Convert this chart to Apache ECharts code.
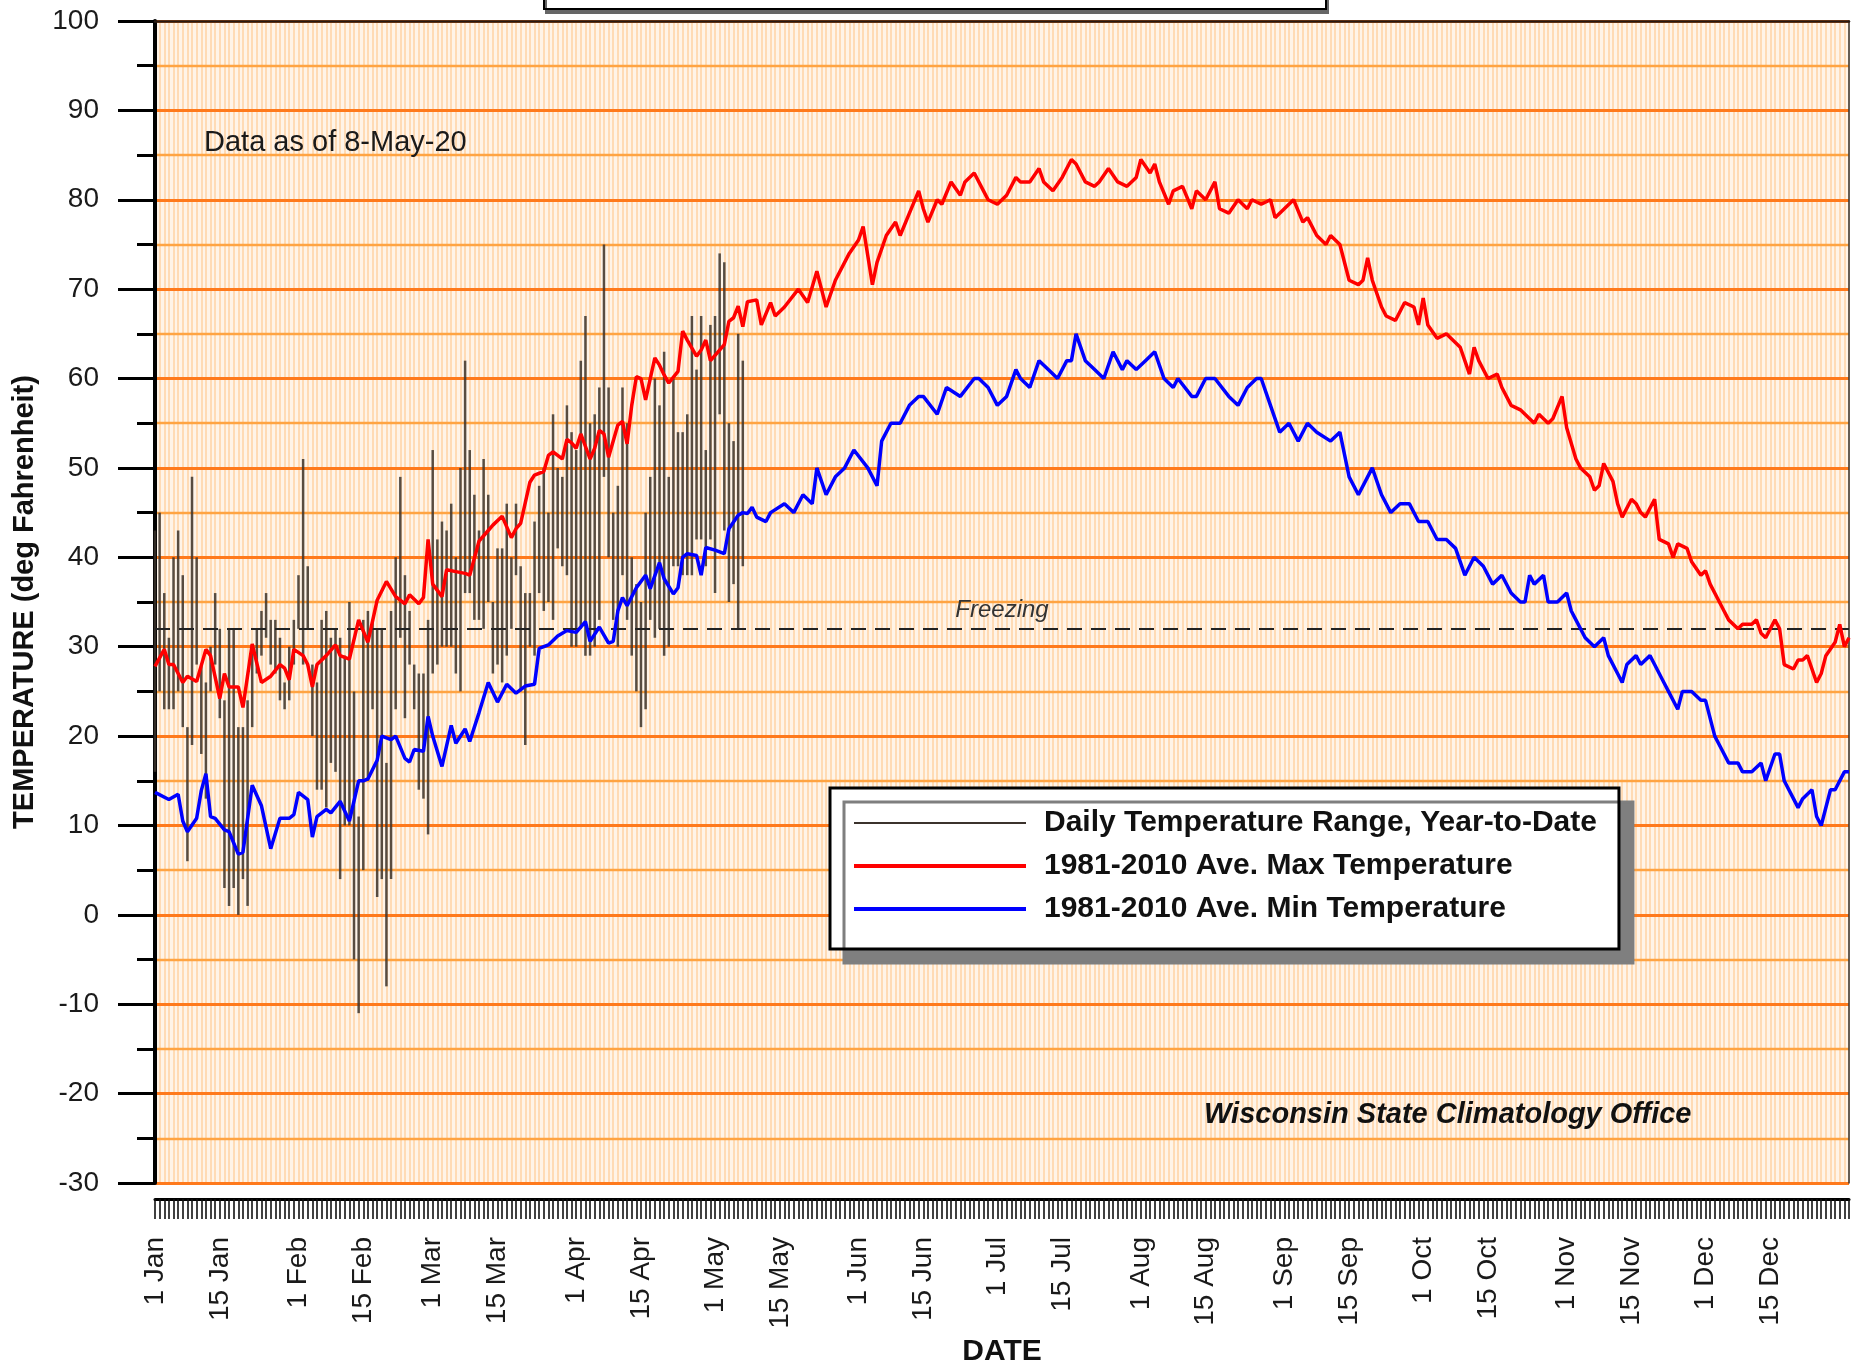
<!DOCTYPE html>
<html><head><meta charset="utf-8">
<script src="https://cdn.jsdelivr.net/npm/echarts@6/dist/echarts.min.js"></script>
<style>html,body{margin:0;padding:0;background:#fff}#c{width:1860px;height:1364px}</style>
</head><body><div id="c"></div>
<script>
const FONT = '"Liberation Sans", Arial, Helvetica, sans-serif';

// x axis: day of year (0 = 1 Jan), 2020 is a leap year
const yearDays = 366;
const tickDays = [0,14,31,45,60,74,91,105,121,135,152,166,182,196,213,227,244,258,274,288,305,319,335,349];
const tickLabels = ['1 Jan','15 Jan','1 Feb','15 Feb','1 Mar','15 Mar','1 Apr','15 Apr','1 May','15 May','1 Jun','15 Jun','1 Jul','15 Jul','1 Aug','15 Aug','1 Sep','15 Sep','1 Oct','15 Oct','1 Nov','15 Nov','1 Dec','15 Dec'];

// daily observed range, year to date (index = day of year, from 1 Jan)
const rangeLow = [16,25,23,23,23,25,21,6,19,28,18,13,25,28,22,3,1,3,0,4,1,21,27,29,31,28,27,24,23,24,
  28,32,28,32,20,14,14,12,17,16,4,10,10,-5,-11,5,15,23,2,4,-8,4,23,31,22,28,23,14,13,9,
  27,28,30,30,30,27,25,36,36,33,33,32,35,27,28,26,29,32,38,25,19,30,29,36,34,35,33,41,39,38,
  30,30,32,29,29,30,33,49,40,33,30,38,33,29,25,21,23,33,31,32,29,30,39,39,38,38,38,42,42,39,
  42,36,56,43,35,37,32,39];
const rangeHigh = [43,45,36,31,40,43,38,21,49,40,28,26,30,36,32,24,32,32,21,21,24,30,32,34,36,33,33,31,26,30,
  33,38,51,39,28,26,33,34,31,32,31,29,35,25,11,33,34,33,32,32,17,34,40,49,38,34,28,27,27,33,
  52,42,44,43,46,40,50,62,52,47,43,51,47,35,41,41,46,40,46,39,36,36,44,48,50,45,56,50,49,57,
  54,52,62,67,55,56,59,75,59,45,48,59,55,40,37,35,45,49,60,57,63,49,60,54,54,56,67,61,67,52,
  66,67,74,73,55,53,65,62];

// 1981-2010 normal max temperature
const maxNormDays = [0,2,3,4,6,7,9,11,12,14,15,16,18,19,21,23,25,27,28,29,30,32,33,34,35,37,39,40,42,44,46,48,50,52,54,55,57,58,59,60,
  62,63,65,67,68,70,72,73,75,76,77,78,79,81,82,84,85,86,88,89,90,91,92,94,95,96,97,98,99,100,101,102,103,104,105,106,107,108,109,110,
  111,113,114,115,117,118,119,120,121,123,124,125,126,127,128,130,131,133,134,136,139,141,143,144,145,147,150,152,153,155,156,158,160,161,163,165,166,167,169,170,
  172,174,175,177,179,180,182,184,186,187,189,191,192,194,196,198,199,201,203,204,206,208,210,212,213,215,216,217,219,220,222,224,225,227,229,230,232,234,236,237,
  239,241,242,244,246,248,249,251,253,254,256,258,260,261,262,263,265,266,268,270,272,273,274,275,277,279,281,282,284,285,286,288,290,291,293,295,296,298,299,301,
  302,304,305,307,308,310,311,312,313,315,316,317,319,320,321,322,324,325,327,328,329,331,332,334,335,336,338,339,340,342,343,345,346,347,348,350,351,352,354,355,
  356,357,359,360,361,363,364,365,366];
const maxNormVals = [27.8,29.7,28,28,26,26.7,26.1,29.7,29,24.2,27,25.5,25.5,23.2,30.3,26,26.7,28,27.6,26.3,29.7,29,28,25.5,28,29,30.2,29,28.6,33,30.5,35.2,37.3,35.6,34.8,35.8,34.8,35.5,42,37,
  35.6,38.6,38.4,38.2,38,41.8,43,43.6,44.6,43.4,42.2,43.2,43.8,48.4,49.2,49.6,51.4,51.8,51,53.2,52.8,52.2,53.8,51,52.2,54.2,53.8,51.2,53,54.8,55.2,52.7,57,60.2,60,57.6,60,62.3,61.5,60.4,
  59.5,60.8,65.3,64.3,62.5,63.2,64.3,62,62.6,63.8,66.4,66.8,68.1,65.8,68.6,68.8,66,68.5,67,68,70,68.5,72,70,68,71,74,75.5,77,70.5,73,76,77.5,76,78.5,81,79,77.5,80,79.5,
  82,80.5,82,83,81,80,79.5,80.5,82.5,82,82,83.5,82,81,82.5,84.5,84,82,81.5,82,83.5,82,81.5,82.5,84.5,83,84,82,79.5,81,81.5,79,81,80,82,79,78.5,80,79,80,
  79.5,80,78,79,80,77.5,78,76,75,76,75,71,70.5,71,73.5,71,68,67,66.5,68.5,68,66,69,66,64.5,65,64,63.5,60.5,63.5,62,60,60.5,59,57,56.5,56,55,56,55,
  55.5,58,54.5,51,50,49,47.5,48,50.5,48.5,46,44.5,46.5,46,45,44.5,46.5,42,41.5,40,41.5,41,39.5,38,38.5,37,35,34,33,32,32.5,32.5,33,31.5,31,33,32,28,27.5,28.5,
  28.5,29,26,27,29,30.5,32.5,30,31];

// 1981-2010 normal min temperature
const minNormDays = [0,3,5,6,7,9,10,11,12,13,15,16,18,19,21,23,25,27,29,30,31,33,34,35,37,38,40,42,44,45,46,48,49,51,52,54,55,56,58,59,
  60,62,64,65,67,68,70,72,74,76,78,80,82,83,85,87,89,91,93,94,96,98,99,100,101,102,104,106,107,109,110,112,113,114,115,117,118,119,121,123,
  124,126,127,128,129,130,132,133,136,138,140,142,143,145,147,149,151,154,156,157,159,161,163,165,166,169,171,174,177,178,180,182,184,186,187,189,191,193,195,197,
  198,199,201,203,205,207,209,210,212,214,216,218,220,221,224,225,227,229,232,234,236,238,239,241,243,245,247,249,251,254,256,258,260,262,263,265,267,269,271,273,
  275,276,277,279,281,283,285,287,289,291,293,295,296,297,298,300,301,303,305,306,307,309,311,313,314,316,317,318,320,321,323,324,326,327,329,330,332,334,335,337,
  338,340,342,343,345,347,348,350,351,352,354,355,356,358,359,360,362,363,365,366];
const minNormVals = [13.7,12.9,13.5,10.5,9.3,10.8,13.9,15.8,11,10.8,9.5,9.3,6.8,7,14.5,12.2,7.4,10.8,10.8,11.2,13.7,12.9,8.7,11,11.8,11.4,12.7,10.5,15,15,15.2,17.3,20,19.6,20,17.5,17.1,18.5,18.3,22.2,
  20,16.6,21.2,19.2,20.8,19.4,22.6,26,23.8,25.8,24.8,25.6,25.8,29.8,30.2,31.2,31.8,31.6,32.8,30.6,32.2,30.4,30.6,34,35.5,34.6,36.6,38,36.5,39.4,37.6,35.9,36.6,40,40.4,40.2,38,41.1,40.8,40.4,
  43.2,44.7,45,44.9,45.6,44.5,44,45,46,45,47,46,50,47,49,50,52,50,48,53,55,55,57,58,58,56,59,58,60,60,59,57,58,61,60,59,62,61,60,62,
  62,65,62,61,60,63,61,62,61,62,63,60,59,60,58,58,60,60,58,57,59,60,60,57,54,55,53,55,54,53,54,49,47,49,50,47,45,46,46,44,
  44,43,42,42,41,38,40,39,37,38,36,35,35,38,37,38,35,35,36,34,33,31,30,31,29,27,26,28,29,28,29,28,26,25,23,25,25,24,24,20,
  19,17,17,16,16,17,15,18,18,15,13,12,13,14,11,10,14,14,16,16];

const FREEZING = 32;

const chart = echarts.init(document.getElementById('c'), null, {renderer: 'canvas'});

const rangeData = rangeLow.map((lo, i) => [i, lo, rangeHigh[i]]);
const maxData = maxNormDays.map((d, i) => [d, maxNormVals[i]]);
const minData = minNormDays.map((d, i) => [d, minNormVals[i]]);
const labelMap = {};
tickDays.forEach((d, i) => { labelMap[d] = tickLabels[i]; });

const NAME_RANGE = 'Daily Temperature Range, Year-to-Date';
const NAME_MAX = '1981-2010 Ave. Max Temperature';
const NAME_MIN = '1981-2010 Ave. Min Temperature';

const option = {
  animation: false,
  backgroundColor: '#ffffff',
  textStyle: {fontFamily: FONT},
  grid: {left: 155, right: 11, top: 21, bottom: 181, containLabel: false, outerBoundsMode: 'none',
    show: true, backgroundColor: '#fff4e8', borderWidth: 0},
  xAxis: [
    { // daily tick band + daily vertical grid
      type: 'value', min: 0, max: yearDays, interval: 1, position: 'bottom', offset: 16, z: 0,
      axisLine: {show: true, onZero: false, lineStyle: {color: '#000', width: 3}},
      axisTick: {show: true, length: 20, inside: false, lineStyle: {color: '#111', width: 1.6}},
      axisLabel: {show: false},
      splitLine: {show: true, lineStyle: {color: '#ffdbb5', width: 2}}
    },
    { // date labels
      type: 'value', min: 0, max: yearDays, interval: 1, position: 'bottom', offset: 0,
      axisLine: {show: false, onZero: false}, axisTick: {show: false}, splitLine: {show: false},
      axisLabel: {show: true, rotate: 90, margin: 54, fontSize: 28, color: '#1a1a1a', fontFamily: FONT,
        formatter: v => (labelMap[v] !== undefined ? labelMap[v] : '')},
      name: 'DATE', nameLocation: 'middle', nameGap: 151,
      nameTextStyle: {fontSize: 30, fontWeight: 'bold', color: '#111', fontFamily: FONT}
    },
    { // top frame
      type: 'value', min: 0, max: yearDays, position: 'top', z: 2,
      axisLine: {show: true, onZero: false, lineStyle: {color: '#2a1a12', width: 2.5}},
      axisTick: {show: false}, axisLabel: {show: false}, splitLine: {show: false}
    }
  ],
  yAxis: [
    {
      type: 'value', min: -30, max: 100, interval: 10, position: 'left', z: 1,
      axisLine: {show: true, onZero: false, lineStyle: {color: '#000', width: 4}},
      axisTick: {show: true, length: 37, lineStyle: {color: '#000', width: 3}},
      minorTick: {show: true, splitNumber: 2, length: 18, lineStyle: {color: '#000', width: 3}},
      axisLabel: {margin: 56, fontSize: 28, color: '#1a1a1a', fontFamily: FONT},
      splitLine: {show: true, lineStyle: {color: '#ff7a1c', width: 2.8}},
      minorSplitLine: {show: true, lineStyle: {color: '#ffa443', width: 2.4}},
      name: 'TEMPERATURE (deg Fahrenheit)', nameLocation: 'middle', nameGap: 116,
      nameTextStyle: {fontSize: 29, fontWeight: 'bold', color: '#111', fontFamily: FONT}
    },
    { // right frame
      type: 'value', min: -30, max: 100, position: 'right', z: 2,
      axisLine: {show: true, onZero: false, lineStyle: {color: '#333', width: 1.5}},
      axisTick: {show: false}, axisLabel: {show: false}, splitLine: {show: false}
    }
  ],
  legend: {
    orient: 'vertical', left: 830, top: 788,
    padding: [20, 22, 25, 24], itemGap: 13,
    itemWidth: 185, itemHeight: 4,
    backgroundColor: '#ffffff', borderColor: '#000', borderWidth: 3,
    shadowColor: '#7f7f7f', shadowBlur: 0, shadowOffsetX: 14, shadowOffsetY: 14,
    itemStyle: {borderWidth: 0},
    textStyle: {fontSize: 30, fontWeight: 'bold', color: '#111', fontFamily: FONT},
    selectedMode: false,
    data: [
      {name: NAME_RANGE, icon: 'path://M0,1h172v2h-172z M185,0v4'},
      {name: NAME_MAX, icon: 'path://M0,0h172v4h-172z M185,0v4'},
      {name: NAME_MIN, icon: 'path://M0,0h172v4h-172z M185,0v4'}
    ]
  },
  graphic: [
    {type: 'rect', left: 543, top: -40, z: 100,
      shape: {width: 782, height: 48},
      style: {fill: '#fff', stroke: '#000', lineWidth: 2, shadowColor: '#666', shadowOffsetX: 2, shadowOffsetY: 4, shadowBlur: 0}},
    {type: 'text', left: 204, top: 128, z: 100,
      style: {text: 'Data as of 8-May-20', fontSize: 29, fontFamily: FONT, fill: '#1a1a1a'}},
    {type: 'text', left: 1204, top: 1100, z: 100,
      style: {text: 'Wisconsin State Climatology Office', fontSize: 29, fontWeight: 'bold', fontStyle: 'italic', fontFamily: FONT, fill: '#111'}}
  ],
  series: [
    {
      name: NAME_RANGE, type: 'custom', xAxisIndex: 0, yAxisIndex: 0, z: 3,
      color: '#3b322c',
      encode: {x: 0, y: [1, 2]},
      data: rangeData,
      renderItem: function (params, api) {
        const d = api.value(0);
        const p1 = api.coord([d, api.value(1)]);
        const p2 = api.coord([d, api.value(2)]);
        return {type: 'line', shape: {x1: p1[0], y1: p1[1], x2: p2[0], y2: p2[1]},
          style: {stroke: '#3b322c', lineWidth: 2.5, opacity: 0.85}};
      }
    },
    {
      name: NAME_MAX, type: 'line', xAxisIndex: 0, yAxisIndex: 0, z: 5,
      data: maxData, showSymbol: false, symbol: 'none', color: '#ff0000',
      lineStyle: {color: '#ff0000', width: 3.5},
      markLine: {
        silent: true, symbol: 'none', z: 4,
        lineStyle: {color: '#222', width: 2, type: [15, 9]},
        label: {show: true, formatter: 'Freezing', position: 'insideMiddleTop', distance: 6,
          fontSize: 24, fontStyle: 'italic', color: '#333', fontFamily: FONT},
        data: [{yAxis: FREEZING}]
      }
    },
    {
      name: NAME_MIN, type: 'line', xAxisIndex: 0, yAxisIndex: 0, z: 5,
      data: minData, showSymbol: false, symbol: 'none', color: '#0000ff',
      lineStyle: {color: '#0000ff', width: 3.5}
    }
  ]
};
chart.setOption(option);
</script>
</body></html>
